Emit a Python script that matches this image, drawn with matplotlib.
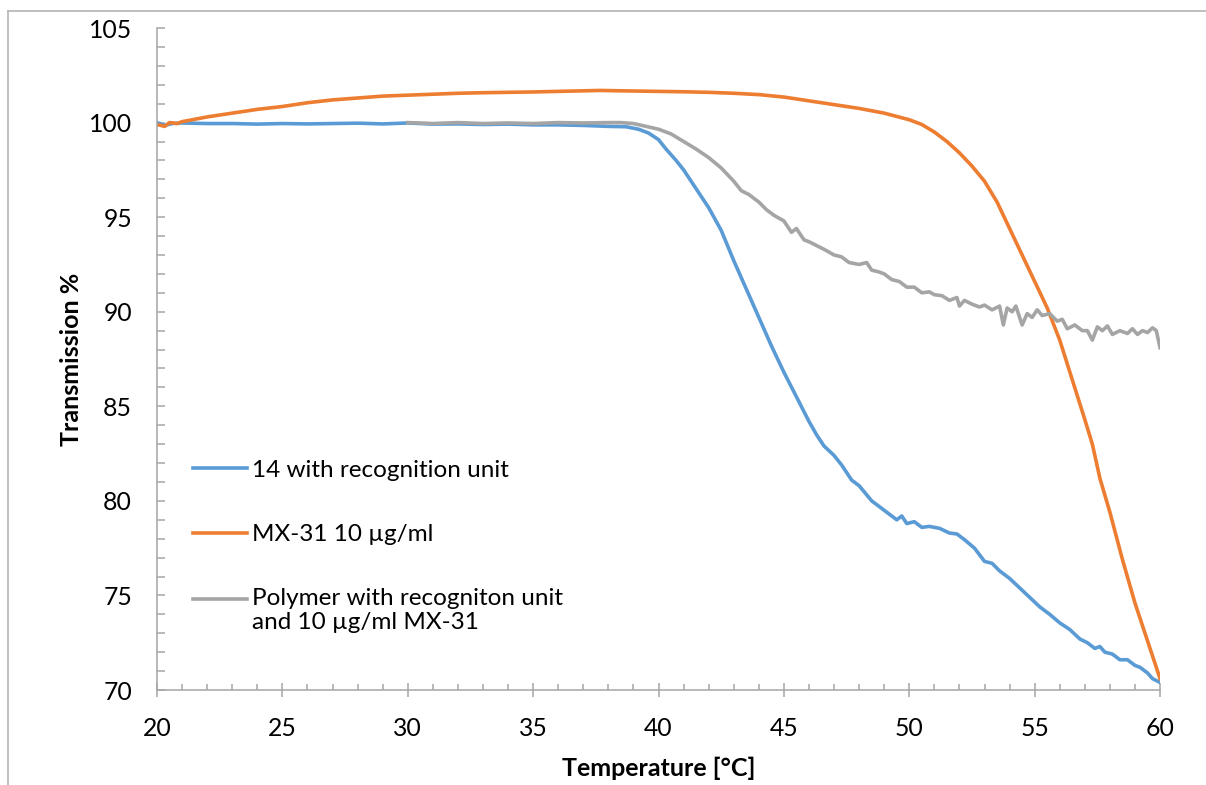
import matplotlib
matplotlib.use("Agg")
import numpy as np
import matplotlib.pyplot as plt
from matplotlib.lines import Line2D
from matplotlib.legend_handler import HandlerLine2D
from matplotlib.ticker import MultipleLocator

plt.rcParams['font.family'] = ['Lato', 'DejaVu Sans']

# Series
temp_blue = [20.0, 20.3, 20.6, 21, 22, 23, 24, 25, 26, 27, 28, 29, 30, 31, 32, 33, 34, 35, 36, 37, 38,
             38.7, 39.2, 39.6, 40.0, 40.3, 40.7, 41.0, 41.3, 41.7, 42.0, 42.5, 43.0, 43.5, 44.0, 44.5,
             45.0, 45.5, 46.0, 46.3, 46.6, 47.0, 47.3, 47.7, 48.0, 48.5, 49.0, 49.5, 49.7, 49.9, 50.2,
             50.5, 50.8, 51.2, 51.6, 51.9, 52.2, 52.6, 53.0, 53.3, 53.6, 54.0, 54.4, 54.8, 55.2, 55.6,
             56.0, 56.4, 56.8, 57.1, 57.4, 57.6, 57.8, 58.1, 58.4, 58.7, 59.0, 59.2, 59.5, 59.7, 60.0]
trans_blue = [100.0, 99.85, 99.95, 99.98, 99.95, 99.95, 99.92, 99.95, 99.93, 99.95, 99.97, 99.93,
              99.98, 99.92, 99.93, 99.9, 99.92, 99.88, 99.88, 99.85, 99.8,
              99.78, 99.65, 99.45, 99.1, 98.6, 98.0, 97.5, 96.9, 96.1, 95.5, 94.3, 92.7, 91.2, 89.7, 88.2,
              86.8, 85.5, 84.2, 83.5, 82.9, 82.4, 81.9, 81.1, 80.8, 80.0, 79.5, 79.0, 79.2, 78.8, 78.9,
              78.6, 78.65, 78.55, 78.3, 78.25, 77.95, 77.5, 76.8, 76.7, 76.3, 75.9, 75.4, 74.9, 74.4, 74.0,
              73.55, 73.2, 72.7, 72.5, 72.2, 72.3, 72.0, 71.9, 71.6, 71.6, 71.3, 71.2, 70.9, 70.6, 70.4]

temp_orange = [20.0, 20.3, 20.5, 20.8, 21, 22, 23, 24, 25, 26, 27, 28, 29, 30, 31, 32, 33, 34, 35, 36,
               37, 37.7, 38.5, 40, 41, 42, 43, 44, 45, 46, 47, 48, 49, 50, 50.5, 51, 51.5, 52, 52.5,
               53, 53.5, 54, 54.5, 55, 55.5, 56, 56.5, 57, 57.3, 57.6, 58, 58.5, 59, 59.5, 60]
trans_orange = [99.9, 99.8, 100.0, 99.95, 100.05, 100.3, 100.5, 100.7, 100.85, 101.05, 101.2, 101.3,
                101.4, 101.45, 101.5, 101.55, 101.58, 101.6, 101.62, 101.65, 101.68, 101.7, 101.68,
                101.65, 101.63, 101.6, 101.55, 101.48, 101.35, 101.15, 100.95, 100.75, 100.5, 100.15,
                99.9, 99.5, 99.0, 98.4, 97.7, 96.9, 95.8, 94.4, 93.0, 91.6, 90.2, 88.5, 86.4, 84.3,
                83.0, 81.2, 79.4, 76.9, 74.6, 72.6, 70.6]

temp_gray = [30.0, 31, 32, 33, 34, 35, 36, 37, 38, 38.5, 39, 39.5, 40, 40.5, 41, 41.5, 42, 42.5, 43,
             43.3, 43.6, 44, 44.3, 44.6, 45, 45.3, 45.5, 45.8, 46, 46.3, 46.6, 47, 47.3, 47.6, 48, 48.3,
             48.5, 48.8, 49, 49.3, 49.6, 49.9, 50.2, 50.5, 50.8, 51, 51.3, 51.6, 51.9, 52.0, 52.2, 52.5,
             52.8, 53.0, 53.3, 53.6, 53.75, 53.9, 54.1, 54.25, 54.5, 54.7, 54.9, 55.1, 55.3, 55.6, 55.9,
             56.1, 56.3, 56.6, 56.9, 57.1, 57.3, 57.5, 57.7, 57.9, 58.1, 58.4, 58.7, 58.9, 59.1, 59.3,
             59.5, 59.7, 59.85, 60.0]
trans_gray = [100.0, 99.95, 100.0, 99.95, 99.98, 99.95, 100.0, 99.98, 100.0, 100.0, 99.95, 99.8, 99.65,
              99.4, 99.0, 98.6, 98.15, 97.6, 96.9, 96.4, 96.2, 95.8, 95.4, 95.1, 94.8, 94.2, 94.4, 93.8,
              93.7, 93.5, 93.3, 93.0, 92.9, 92.6, 92.5, 92.6, 92.2, 92.1, 92.0, 91.7, 91.6, 91.3, 91.3,
              91.0, 91.05, 90.9, 90.85, 90.6, 90.75, 90.3, 90.6, 90.4, 90.25, 90.35, 90.1, 90.3, 89.3,
              90.2, 90.0, 90.3, 89.3, 89.9, 89.7, 90.1, 89.8, 89.9, 89.5, 89.6, 89.1, 89.3, 89.0, 89.0,
              88.5, 89.2, 89.0, 89.25, 88.8, 89.0, 88.85, 89.1, 88.8, 89.0, 88.9, 89.15, 89.0, 88.1]

labels = ['14 with recognition unit',
          'MX-31 10 µg/ml',
          'Polymer with recogniton unit\nand 10 µg/ml MX-31']
colors = ['#5B9BD5', '#ED7D31', '#A5A5A5']


# legend line that sits next to the first line of a two-line label
class TopLineHandler(HandlerLine2D):
    def create_artists(self, legend, orig_handle, xdescent, ydescent, width, height,
                       fontsize, trans):
        artists = super().create_artists(legend, orig_handle, xdescent, ydescent,
                                         width, height, fontsize, trans)
        for a in artists:
            a.set_ydata(np.asarray(a.get_ydata()) + 0.5 * fontsize)
        return artists


fig = plt.figure(figsize=(12.06, 7.85), dpi=100)
ax = fig.add_axes([0.1302, 0.1210, 0.8317, 0.8433])

ax.plot(temp_blue, trans_blue, color=colors[0], lw=2.6, label=labels[0])
ax.plot(temp_orange, trans_orange, color=colors[1], lw=2.6, label=labels[1])
gray_line, = ax.plot(temp_gray, trans_gray, color=colors[2], lw=2.6, label=labels[2])

ax.set_xlim(20, 60)
ax.set_ylim(70, 105)
ax.xaxis.set_major_locator(MultipleLocator(5))
ax.xaxis.set_minor_locator(MultipleLocator(1))
ax.yaxis.set_major_locator(MultipleLocator(5))
ax.yaxis.set_minor_locator(MultipleLocator(1))

axis_gray = '#A6A6A6'
for side in ['top', 'right']:
    ax.spines[side].set_visible(False)
for side in ['left', 'bottom']:
    ax.spines[side].set_color(axis_gray)
    ax.spines[side].set_linewidth(1.1)

ax.tick_params(axis='x', which='major', direction='inout', length=10, width=1.1,
               color=axis_gray, pad=14.5, labelsize=17.8)
ax.tick_params(axis='x', which='minor', direction='in', length=4.5, width=1.1, color=axis_gray)
ax.tick_params(axis='y', which='major', direction='in', length=5.5, width=1.1,
               color=axis_gray, pad=18, labelsize=17.8)
ax.tick_params(axis='y', which='minor', direction='in', length=5.5, width=1.1, color=axis_gray)

ax.set_xlabel('Temperature [°C]', fontsize=18, fontweight='bold', labelpad=11.7)
ax.set_ylabel('Transmission %', fontsize=18, fontweight='bold', labelpad=4)

ax.legend(loc='upper left', bbox_to_anchor=(0.036, 0.3475), frameon=False, fontsize=17.5,
          handlelength=2.22, handletextpad=0.2, labelspacing=1.77, borderpad=0, borderaxespad=0,
          handler_map={gray_line: TopLineHandler()})

# outer chart frame (only top and left edges visible in reference)
frame_color = '#B4B4B4'
fig.add_artist(Line2D([0.0066, 0.0066], [0.0, 0.986], transform=fig.transFigure,
                      color=frame_color, lw=1.2))
fig.add_artist(Line2D([0.0066, 1.0], [0.986, 0.986], transform=fig.transFigure,
                      color=frame_color, lw=1.2))

fig.savefig('out.png', dpi=100)
